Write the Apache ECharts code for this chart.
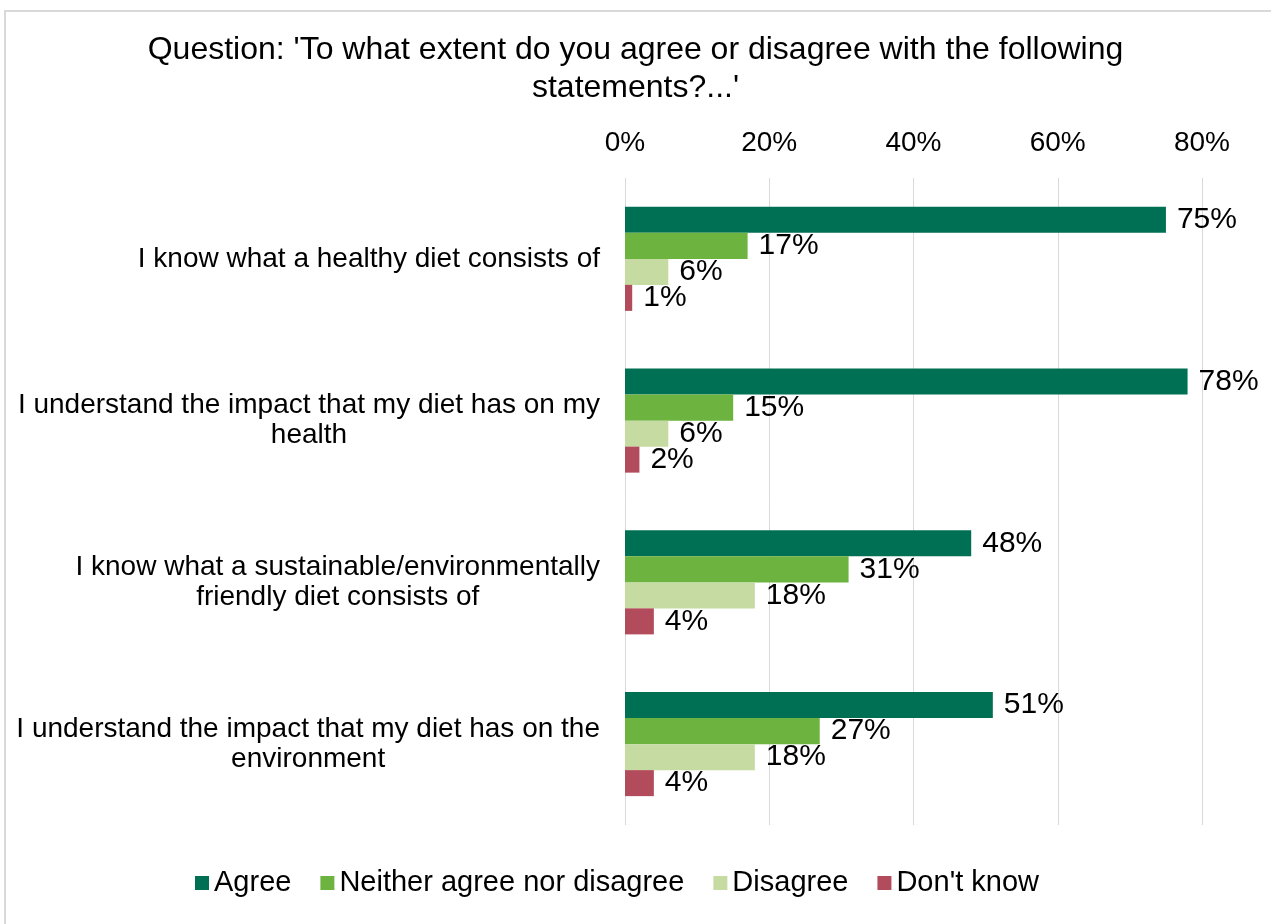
<!DOCTYPE html>
<html>
<head>
<meta charset="utf-8">
<script src="https://cdn.jsdelivr.net/npm/echarts@6/dist/echarts.min.js"></script>
<style>
  html, body { margin: 0; padding: 0; background: #ffffff; }
  #chart { width: 1271px; height: 924px; }
</style>
</head>
<body>
<div id="chart"></div>
<script>
// Survey statements (lines split where the label wraps)
const statements = [
  'I know what a healthy diet consists of',
  'I understand the impact that my diet has on my\nhealth',
  'I know what a sustainable/environmentally\nfriendly diet consists of',
  'I understand the impact that my diet has on the\nenvironment'
];

// Response shares, in percent, per statement
const agree    = [75, 78, 48, 51];
const neither  = [17, 15, 31, 27];
const disagree = [6, 6, 18, 18];
const dontKnow = [1, 2, 4, 4];

const seriesNames = ['Agree', 'Neither agree nor disagree', 'Disagree', "Don't know"];
const seriesColors = ['#007054', '#6DB33F', '#C6DBA1', '#B24B5B'];

// Axis ticks
const axisMin = 0;
const axisMax = 80;
const axisStep = 20;

const FONT = '"Liberation Sans", Arial, sans-serif';
const TEXT = '#000000';

const chart = echarts.init(document.getElementById('chart'), null, { renderer: 'canvas' });

function makeSeries(name, values, color) {
  return {
    name: name,
    type: 'bar',
    data: values,
    barGap: '0%',
    barCategoryGap: '35.7%',
    itemStyle: { color: color },
    label: {
      show: true,
      position: 'right',
      distance: 11,
      formatter: p => p.value + '%',
      fontFamily: FONT,
      fontSize: 30,
      color: TEXT
    },
    emphasis: { disabled: true }
  };
}

chart.setOption({
  animation: false,
  textStyle: { fontFamily: FONT },
  graphic: [{
    type: 'rect',
    shape: { x: 5, y: 11, width: 1400, height: 1000 },
    style: { fill: 'none', stroke: '#d9d9d9', lineWidth: 2 },
    silent: true
  }],
  title: {
    text: "Question: 'To what extent do you agree or disagree with the following\nstatements?...'",
    left: 'center',
    top: 26,
    textStyle: {
      fontFamily: FONT,
      fontSize: 32,
      fontWeight: 'normal',
      color: TEXT,
      lineHeight: 38
    }
  },
  legend: {
    top: 863,
    left: 190,
    itemWidth: 14,
    itemHeight: 14,
    itemGap: 29,
    icon: 'rect',
    textStyle: { fontFamily: FONT, fontSize: 29, color: TEXT, lineHeight: 30 },
    data: seriesNames
  },
  grid: { left: 625, right: 69, top: 178, bottom: 99, containLabel: false },
  xAxis: {
    type: 'value',
    position: 'top',
    min: axisMin,
    max: axisMax,
    interval: axisStep,
    axisLine: { show: false },
    axisTick: { show: false },
    splitLine: { show: true, lineStyle: { color: '#d9d9d9', width: 1 } },
    axisLabel: {
      formatter: v => v + '%',
      fontFamily: FONT,
      fontSize: 28,
      color: TEXT,
      margin: 21
    }
  },
  yAxis: {
    type: 'category',
    inverse: true,
    data: statements,
    axisLine: { show: false },
    axisTick: { show: false },
    axisLabel: {
      margin: 25,
      align: 'right',
      color: TEXT,
      fontFamily: FONT,
      fontSize: 28,
      lineHeight: 30,
      formatter: v => v.split('\n').map(line => '{c|' + line + '}').join('\n'),
      rich: {
        c: { align: 'center', fontFamily: FONT, fontSize: 28, color: TEXT, lineHeight: 30 }
      }
    }
  },
  series: [
    makeSeries(seriesNames[0], agree, seriesColors[0]),
    makeSeries(seriesNames[1], neither, seriesColors[1]),
    makeSeries(seriesNames[2], disagree, seriesColors[2]),
    makeSeries(seriesNames[3], dontKnow, seriesColors[3])
  ]
});
</script>
</body>
</html>
